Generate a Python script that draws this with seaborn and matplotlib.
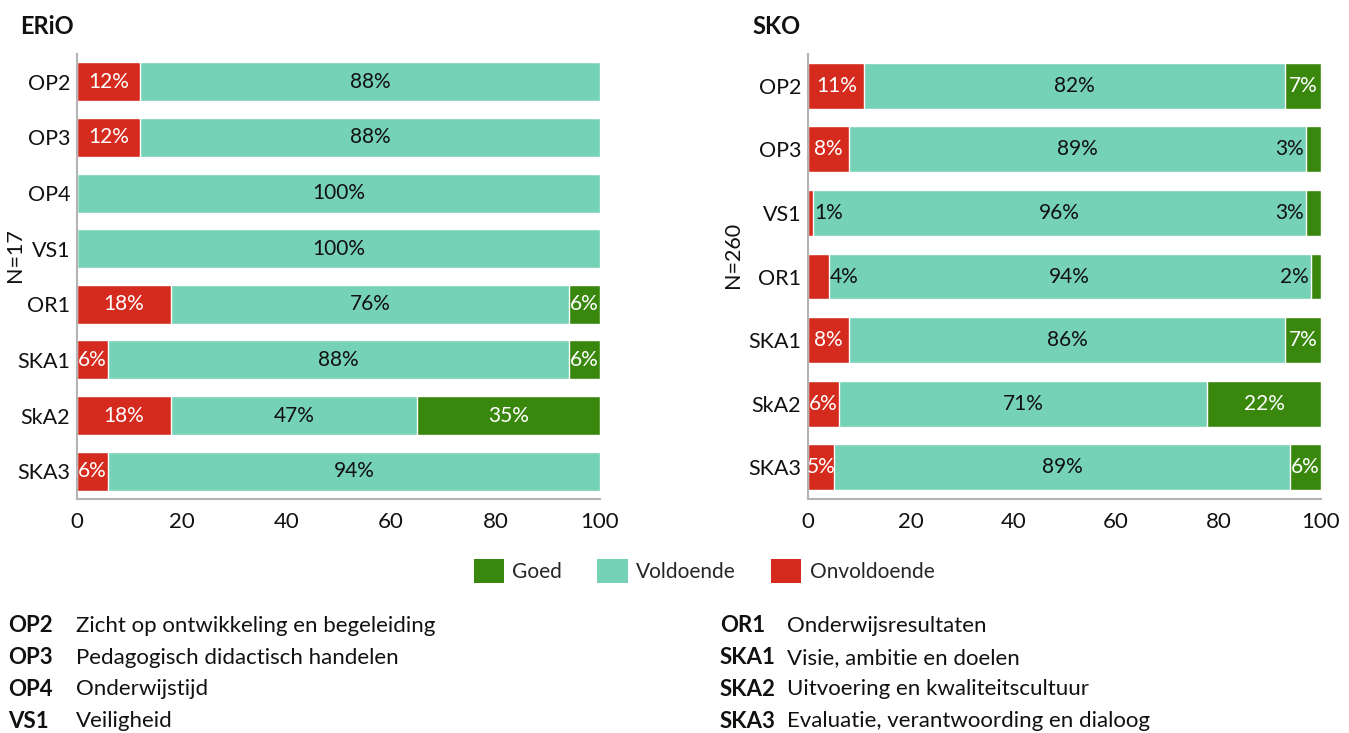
"""Inspectie-uitkomsten per standaard: ERiO vs SKO (stacked horizontal bars)."""

import matplotlib
matplotlib.use("Agg")
import matplotlib.pyplot as plt
from matplotlib.patches import Patch
import seaborn as sns
import pandas as pd
import numpy as np

sns.set_theme(style="white")
plt.rcParams["font.family"] = ["Lato", "DejaVu Sans"]

RED = "#d52b1e"
TEAL = "#76d2b6"
GREEN = "#39870c"
SPINE = "#b4b4b4"
INK = "#111111"

# ERiO data (N=17)
erio_cats = ["OP2", "OP3", "OP4", "VS1", "OR1", "SKA1", "SkA2", "SKA3"]
erio_onv = [12, 12, 0, 0, 18, 6, 18, 6]
erio_vold = [88, 88, 100, 100, 76, 88, 47, 94]
erio_goed = [0, 0, 0, 0, 6, 6, 35, 0]

# SKO data (N=260)
sko_cats = ["OP2", "OP3", "VS1", "OR1", "SKA1", "SkA2", "SKA3"]
sko_onv = [11, 8, 1, 4, 8, 6, 5]
sko_vold = [82, 89, 96, 94, 86, 71, 89]
sko_goed = [7, 3, 3, 2, 7, 22, 6]

legend_labels = ["Goed", "Voldoende", "Onvoldoende"]

notes_left = [("OP2", "Zicht op ontwikkeling en begeleiding"),
              ("OP3", "Pedagogisch didactisch handelen"),
              ("OP4", "Onderwijstijd"),
              ("VS1", "Veiligheid")]
notes_right = [("OR1", "Onderwijsresultaten"),
               ("SKA1", "Visie, ambitie en doelen"),
               ("SKA2", "Uitvoering en kwaliteitscultuur"),
               ("SKA3", "Evaluatie, verantwoording en dialoog")]


def stacked(ax, cats, onv, vold, goed, width, nlabel, label_x):
    df = pd.DataFrame({"cat": cats, "onv": onv, "vold": vold, "goed": goed})
    total = df[["onv", "vold", "goed"]].sum(axis=1)
    scale = 100.0 / total
    df["c1"] = df["onv"] * scale
    df["c2"] = (df["onv"] + df["vold"]) * scale
    df["c3"] = 100.0

    # layered bars: total (goed) under cumulative voldoende under onvoldoende
    sns.barplot(data=df, y="cat", x="c3", color=GREEN, width=width,
                saturation=1, orient="h", ax=ax)
    sns.barplot(data=df, y="cat", x="c2", color=TEAL, width=width,
                saturation=1, orient="h", ax=ax)
    sns.barplot(data=df, y="cat", x="c1", color=RED, width=width,
                saturation=1, orient="h", ax=ax)

    fs = 15
    for i, row in df.iterrows():
        if row["onv"] > 0:
            if row["onv"] < 5:
                ax.text(row["c1"] + 0.3, i, f"{row['onv']}%", ha="left",
                        va="center", color=INK, fontsize=fs)
            else:
                ax.text(row["c1"] / 2, i, f"{row['onv']}%", ha="center",
                        va="center", color="white", fontsize=fs)
        if row["vold"] > 0:
            ax.text((row["c1"] + row["c2"]) / 2, i, f"{row['vold']}%",
                    ha="center", va="center", color=INK, fontsize=fs)
        if row["goed"] > 0:
            if row["goed"] < 5:
                ax.text(row["c2"] - 0.3, i, f"{row['goed']}%", ha="right",
                        va="center", color=INK, fontsize=fs)
            else:
                ax.text((row["c2"] + 100) / 2, i, f"{row['goed']}%",
                        ha="center", va="center", color="white", fontsize=fs)

    ax.set_xlim(0, 100)
    ax.set_xticks([0, 20, 40, 60, 80, 100])
    ax.set_xlabel("")
    ax.set_ylabel(nlabel, fontsize=15.5, color=INK)
    ax.yaxis.set_label_coords(label_x, 0.548)
    sns.despine(ax=ax)
    for side in ("left", "bottom"):
        ax.spines[side].set_color(SPINE)
        ax.spines[side].set_linewidth(1.5)
    ax.tick_params(axis="x", direction="in", length=7, width=1.2,
                   color=SPINE, labelsize=16, labelcolor=INK, pad=9)
    ax.tick_params(axis="y", length=0, labelsize=15.5, labelcolor=INK, pad=5)


fig = plt.figure(figsize=(13.49, 7.33), dpi=100)
ax1 = fig.add_axes([77 / 1349, 1 - 499 / 733, 523 / 1349, 445 / 733])
ax2 = fig.add_axes([808 / 1349, 1 - 499 / 733, 513 / 1349, 445 / 733])

stacked(ax1, erio_cats, erio_onv, erio_vold, erio_goed, 0.70, "N=17", -0.0994)
stacked(ax2, sko_cats, sko_onv, sko_vold, sko_goed, 0.72, "N=260", -0.1267)

fig.text(20 / 1349, 1 - 27 / 733, "ERiO", fontsize=17, fontweight="bold",
         va="center", ha="left", color=INK)
fig.text(752 / 1349, 1 - 27 / 733, "SKO", fontsize=17, fontweight="bold",
         va="center", ha="left", color=INK)

handles = [Patch(facecolor=c, edgecolor="none") for c in (GREEN, TEAL, RED)]
fig.legend(handles, legend_labels, loc="center", ncol=3,
           bbox_to_anchor=(704 / 1349, 1 - 571 / 733), frameon=False,
           fontsize=15, handlelength=1.45, handleheight=1.45,
           columnspacing=1.7, handletextpad=0.4)

for k, (code, desc) in enumerate(notes_left):
    y = 1 - (626 + k * 31.7) / 733
    fig.text(8 / 1349, y, code, fontsize=16, fontweight="bold", va="center",
             color=INK)
    fig.text(76 / 1349, y, desc, fontsize=16, va="center", color=INK)
for k, (code, desc) in enumerate(notes_right):
    y = 1 - (626 + k * 31.7) / 733
    fig.text(720 / 1349, y, code, fontsize=16, fontweight="bold", va="center",
             color=INK)
    fig.text(787 / 1349, y, desc, fontsize=16, va="center", color=INK)

fig.savefig("out.png", dpi=100)
plt.close(fig)
